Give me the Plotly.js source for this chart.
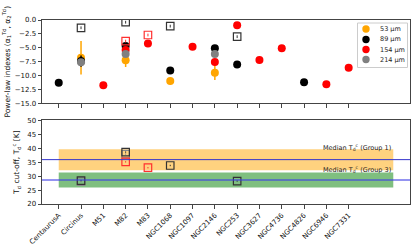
<!DOCTYPE html>
<html><head><meta charset="utf-8">
<script src="https://cdn.plot.ly/plotly-3.0.1.min.js"></script>
<style>html,body{margin:0;padding:0;background:#fff}#c{width:415px;height:251px}</style>
</head><body><div id="c"></div>
<script>
const galaxies = ["CentaurusA","Circinus","M51","M82","M83","NGC1068","NGC1097","NGC2146","NGC253","NGC3627","NGC4736","NGC4826","NGC6946","NGC7331"];
// power-law index alpha1 per wavelength (null = no data)
const a53  = [null,-6.8,null,-7.25,null,-11.0,null,-9.5,null,null,null,null,null,null];
const e53  = [0,3.0,0,1.2,0,0.6,0,1.3,0,0,0,0,0,0];
const a89  = [-11.3,-7.4,null,-4.7,null,-9.1,null,-5.1,-8.0,null,null,-11.2,null,null];
const e89  = [0.4,1.0,0,0.5,0,0.4,0,0.4,0.3,0,0,0.5,0,0];
const a154 = [null,null,-11.75,-5.4,-4.25,null,-4.8,-7.55,-0.95,-7.2,-5.1,null,-11.57,-8.6];
const e154 = [0,0,0.3,0.4,0.3,0,0.3,0.3,0.3,0.3,0.3,0,0.3,0.3];
const a214 = [null,-7.6,null,-6.1,null,null,null,-6.1,null,null,null,null,null,null];
const e214 = [0,0.5,0,0.4,0,0,0,0.3,0,0,0,0,0,0];
// second power-law index alpha2 (open squares)
const a2black = [null,-1.4,null,-0.4,null,-1.1,null,null,-3.0,null,null,null,null,null];
const a2red   = [null,null,null,-3.8,-2.7,null,null,null,null,null,null,null,null,null];
// temperature cut-off T0 (open squares)
const t0black = [null,28.4,null,38.6,null,33.8,null,null,28.2,null,null,null,null,null];
const t0gray  = [null,28.0,null,37.9,null,null,null,null,null,null,null,null,null,null];
const t0red   = [null,null,null,35.1,33.0,null,null,null,null,null,null,null,null,null];
const median1 = 35.9, band1 = [32.1, 39.6];
const median3 = 28.6, band3 = [25.9, 31.3];
const wavelengths = ["53 µm","89 µm","154 µm","214 µm"];
const colors = ["#FFA500","#000000","#FF0000","#808080"];

const idx = galaxies.map((_, i) => i);
const traces = [];
function circ(y, e, c, name) {
  traces.push({x: idx, y: y, type: 'scatter', mode: 'markers', name: name, showlegend:false,
    marker: {color: c, size: 8, line: {width: 0}},
    error_y: {type: 'data', array: e, visible: true, color: c, thickness: 1.5, width: 0},
    xaxis: 'x', yaxis: 'y'});
}
circ(a53, e53, colors[0], wavelengths[0]);
circ(a89, e89, colors[1], wavelengths[1]);
circ(a154, e154, colors[2], wavelengths[2]);
circ(a214, e214, colors[3], wavelengths[3]);
function sq(y, c, ax) {
  traces.push({x: idx, y: y, type: 'scatter', mode: 'markers', showlegend: false,
    marker: {symbol: 'square-open', color: c, size: 7.5, line: {width: 1.2, color: c}},
    error_y: {type: 'constant', value: 0.25, visible: true, color: c, thickness: 1, width: 0},
    xaxis: 'x' + (ax === 2 ? '2' : ''), yaxis: 'y' + (ax === 2 ? '2' : '')});
}
sq(a2black, '#333', 1);
sq(a2red, '#FF3030', 1);
sq(t0gray, '#888', 2);
sq(t0black, '#333', 2);
sq(t0red, '#FF3030', 2);

// paper coordinate helpers (plot area: x 42..410 px, y 20..204 px)
const px = v => (v - 42) / 368;
const py = v => 1 - (v - 20) / 184;

const shapes = [
  {type:'rect', xref:'x2', yref:'y2', x0:0, x1:15, y0:band1[0], y1:band1[1], fillcolor:'rgba(255,165,0,0.5)', line:{width:0}, layer:'below'},
  {type:'rect', xref:'x2', yref:'y2', x0:0, x1:15, y0:band3[0], y1:band3[1], fillcolor:'rgba(0,128,0,0.5)', line:{width:0}, layer:'below'},
  {type:'line', xref:'x2 domain', yref:'y2', x0:0, x1:1, y0:median1, y1:median1, line:{color:'#3333cc', width:1}},
  {type:'line', xref:'x2 domain', yref:'y2', x0:0, x1:1, y0:median3, y1:median3, line:{color:'rgba(60,60,230,0.55)', width:2}},
  // legend box
  {type:'rect', xref:'paper', yref:'paper', x0:px(357.5), x1:px(407.5), y0:py(67.5), y1:py(23), fillcolor:'rgba(255,255,255,0.9)', line:{color:'#cccccc', width:1}}
];
const annotations = [
  {xref:'x2', yref:'y2', x:15, y:40.4, xanchor:'right', yanchor:'middle', showarrow:false,
   text:'Median T<sub>d</sub><sup>c</sup> (Group 1)', font:{family:'DejaVu Sans', size:6.5, color:'#222'}},
  {xref:'x2', yref:'y2', x:15, y:32.3, xanchor:'right', yanchor:'middle', showarrow:false,
   text:'Median T<sub>d</sub><sup>c</sup> (Group 3)', font:{family:'DejaVu Sans', size:6.5, color:'#222'}}
];
const rowY = [29, 39.5, 49.5, 59.5];
wavelengths.forEach((w, i) => {
  shapes.push({type:'circle', xref:'paper', yref:'paper', x0:px(362.3), x1:px(369.7), y0:py(rowY[i]+3.7), y1:py(rowY[i]-3.7),
    fillcolor: colors[i], line:{width:0}});
  annotations.push({xref:'paper', yref:'paper', x:px(377.5), y:py(rowY[i]), xanchor:'left', yanchor:'middle', showarrow:false,
    text: w, font:{family:'DejaVu Sans', size:6.5, color:'#222'}});
});

const tf = {family:'DejaVu Sans', size:7, color:'#111'};
const common = {range:[-0.75,15.75], tickvals: idx, showline:true, mirror:true, linecolor:'#444', linewidth:1,
  ticks:'outside', ticklen:3.5, tickcolor:'#444', showgrid:false, zeroline:false, tickfont: tf};
const layout = {
  width:415, height:251, margin:{l:42, r:5, t:20, b:47},
  paper_bgcolor:'#fff', plot_bgcolor:'#fff',
  showlegend:false,
  xaxis: Object.assign({}, common, {anchor:'y', showticklabels:false}),
  yaxis: {domain:[0.547,1], range:[-15,0], tickvals:[0,-2.5,-5,-7.5,-10,-12.5,-15], tickformat:'.1f',
    showline:true, mirror:true, linecolor:'#444', linewidth:1, ticks:'outside', ticklen:3.5, tickcolor:'#444',
    showgrid:false, zeroline:false, tickfont: tf, anchor:'x',
    title:{text:'Power-law indexes (α<sub>1</sub><sup>Td</sup>, α<sub>2</sub><sup>Td</sup>)', font:{family:'DejaVu Sans', size:7.5, color:'#111'}, standoff:3}},
  xaxis2: Object.assign({}, common, {anchor:'y2', ticktext: galaxies, tickangle:-45}),
  yaxis2: {domain:[0,0.455], range:[20,50], tickvals:[20,25,30,35,40,45,50],
    showline:true, mirror:true, linecolor:'#444', linewidth:1, ticks:'outside', ticklen:3.5, tickcolor:'#444',
    showgrid:false, zeroline:false, tickfont: tf, anchor:'x2',
    title:{text:'T<sub>d</sub> cut-off, T<sub>d</sub><sup>c</sup> [K]', font:{family:'DejaVu Sans', size:7.5, color:'#111'}, standoff:6}},
  shapes: shapes,
  annotations: annotations
};
Plotly.newPlot('c', traces, layout, {displayModeBar:false, staticPlot:true});
</script></body></html>
